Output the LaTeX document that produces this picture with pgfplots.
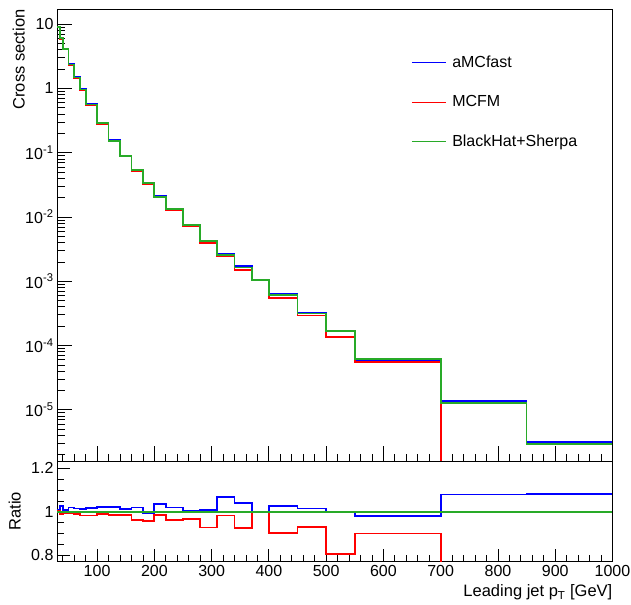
\documentclass[border=0pt]{standalone}
\usepackage{fontspec}
\setmainfont{Liberation Sans}
\usepackage{pgfplots}
\pgfplotsset{compat=1.18}
\definecolor{rblue}{RGB}{0,0,255}
\definecolor{rred}{RGB}{255,0,0}
\definecolor{rgreen}{RGB}{40,170,40}
\begin{document}
\begin{tikzpicture}
\useasboundingbox (0,0) rectangle (631bp,605bp);
\pgfplotsset{every axis/.append style={
  scale only axis, width=555.5bp,
  tick align=inside, tick pos=left,
  axis line style={line width=0.8bp},
  every tick/.style={black, line width=0.8bp},
  font=\fontsize{16bp}{19bp}\selectfont,
  tick label style={font=\fontsize{16bp}{19bp}\selectfont},
  /pgf/number format/assume math mode=true,
  /pgf/number format/1000 sep={},
  xmin=30, xmax=1000,
  xtick={100,200,...,1000},
  minor xtick={40,60,...,980},
}}
% ---------------- main panel ----------------
\begin{axis}[
  at={(57bp,144bp)}, anchor=south west,
  height=451.7bp,
  ymode=log, ymin=1.6e-6, ymax=17,
  ytick={1e-5,1e-4,1e-3,1e-2,1e-1,1,10},
  yticklabels={10\textsuperscript{-5},10\textsuperscript{-4},10\textsuperscript{-3},10\textsuperscript{-2},10\textsuperscript{-1},1,10},
  minor ytick={2e-6,3e-6,4e-6,5e-6,6e-6,7e-6,8e-6,9e-6,
               2e-5,3e-5,4e-5,5e-5,6e-5,7e-5,8e-5,9e-5,
               2e-4,3e-4,4e-4,5e-4,6e-4,7e-4,8e-4,9e-4,
               2e-3,3e-3,4e-3,5e-3,6e-3,7e-3,8e-3,9e-3,
               2e-2,3e-2,4e-2,5e-2,6e-2,7e-2,8e-2,9e-2,
               0.2,0.3,0.4,0.5,0.6,0.7,0.8,0.9,2,3,4,5,6,7,8,9},
  xticklabels={},
  major tick length=15bp, minor tick length=7.5bp,
  ylabel={Cross section},
  ylabel style={at={(axis description cs:-0.0576,1)}, anchor=south east, inner sep=0pt, font=\fontsize{16.5bp}{19bp}\selectfont},
  legend style={draw=none, fill=none, at={(axis description cs:0.632,0.905)}, anchor=north west,
    row sep=22.3bp, font=\fontsize{16bp}{19bp}\selectfont},
  legend cell align=left,
  legend image code/.code={\draw[#1, line width=1bp] (0bp,0bp) -- (34bp,0bp);},
  /tikz/every odd column/.append style={column sep=4bp},
]
\addplot[const plot mark left, rblue, line width=1.8bp] coordinates {
(30,8.97)(35,6.17)(40,4.08)(50,2.41)(60,1.502)(70,0.971)(80,0.573)(100,0.292)(120,0.1564)(140,0.0905)(160,0.0548)(180,0.0334)(200,0.02132)(220,0.01338)(250,0.00742)(280,0.0043)(310,0.002705)(340,0.001709)(370,0.001048)(400,0.000633)(450,0.000321)(500,0.0001675)(550,5.99e-5)(700,1.361e-5)(850,3.18e-6)(1000,3.18e-6)};
\addlegendentry{aMCfast}
\addplot[const plot mark left, rred, line width=1.8bp] coordinates {
(30,8.93)(35,5.93)(40,4.03)(50,2.34)(60,1.464)(70,0.944)(80,0.553)(100,0.2826)(120,0.1507)(140,0.0882)(160,0.0517)(180,0.03216)(200,0.02029)(220,0.01263)(250,0.00715)(280,0.00396)(310,0.002487)(340,0.001517)(370,0.001049)(400,0.000557)(450,0.000294)(500,0.0001352)(550,5.49e-5)(700,1e-9)};
\addlegendentry{MCFM}
\addplot[const plot mark left, rgreen, line width=1.8bp] coordinates {
(30,8.9)(35,6.0)(40,4.05)(50,2.36)(60,1.48)(70,0.96)(80,0.563)(100,0.286)(120,0.153)(140,0.0895)(160,0.0537)(180,0.0336)(200,0.0206)(220,0.01312)(250,0.0074)(280,0.00427)(310,0.00253)(340,0.00164)(370,0.00105)(400,0.000617)(450,0.000316)(500,0.000168)(550,6.1e-5)(700,1.26e-5)(850,2.94e-6)(1000,2.94e-6)};
\addlegendentry{BlackHat+Sherpa}
\end{axis}
% ---------------- ratio panel ----------------
\begin{axis}[
  at={(57bp,43.3bp)}, anchor=south west,
  height=100.7bp,
  ymin=0.77, ymax=1.234,
  ytick={0.8,1,1.2},
  minor ytick={0.75,0.85,0.9,0.95,1.05,1.1,1.15},
  major tick length=13bp, minor tick length=6.5bp,
  ylabel={Ratio},
  ylabel style={at={(axis description cs:-0.0648,0.5)}, anchor=south, inner sep=0pt, font=\fontsize{16.5bp}{19bp}\selectfont},
  xlabel={Leading jet p\textsubscript{T} [GeV]},
  xlabel style={at={(axis description cs:1,-0.3476)}, anchor=base east, inner sep=0pt, font=\fontsize{16.5bp}{19bp}\selectfont},
]
\addplot[const plot mark left, rblue, line width=1.8bp] coordinates {
(30,1.008)(35,1.028)(40,1.008)(50,1.02)(60,1.015)(70,1.011)(80,1.017)(100,1.022)(120,1.022)(140,1.011)(160,1.02)(180,0.994)(200,1.035)(220,1.02)(250,1.003)(280,1.008)(310,1.069)(340,1.042)(370,0.998)(400,1.026)(450,1.015)(500,0.997)(550,0.982)(700,1.08)(850,1.082)(1000,1.082)};
\addplot[const plot mark left, rred, line width=1.8bp] coordinates {
(30,1.003)(35,0.988)(40,0.995)(50,0.992)(60,0.989)(70,0.983)(80,0.983)(100,0.988)(120,0.985)(140,0.985)(160,0.963)(180,0.957)(200,0.985)(220,0.963)(250,0.966)(280,0.928)(310,0.983)(340,0.925)(370,0.999)(400,0.903)(450,0.931)(500,0.805)(550,0.9)(700,0)};
\addplot[const plot mark left, rgreen, line width=1.8bp] coordinates {(30,1)(1000,1)};
\end{axis}
\end{tikzpicture}
\end{document}
